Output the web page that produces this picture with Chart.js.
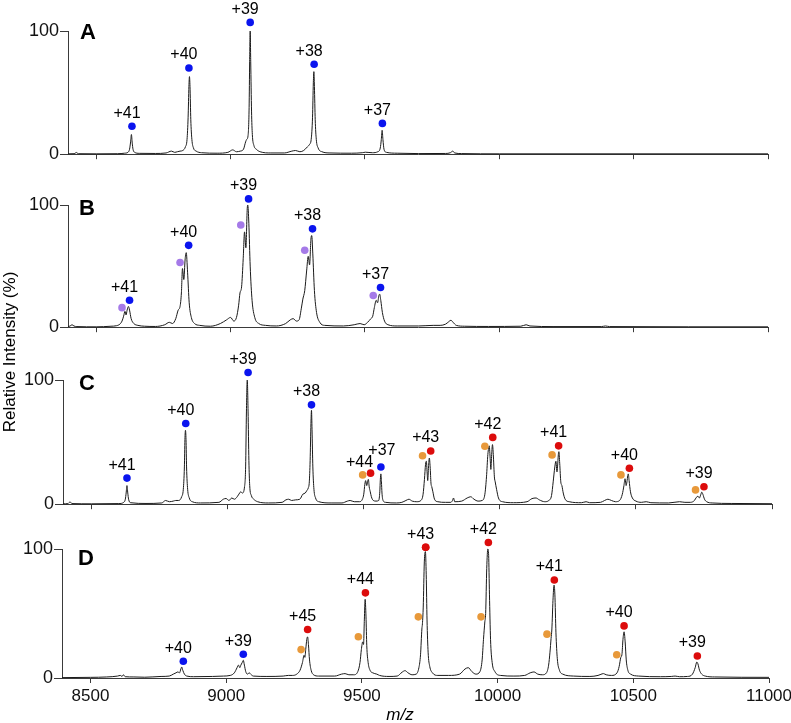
<!DOCTYPE html>
<html>
<head>
<meta charset="utf-8">
<script src="https://cdn.jsdelivr.net/npm/chart.js@4.4.1/dist/chart.umd.min.js"></script>
<style>
  html, body { margin: 0; padding: 0; background: #fff; }
  body { width: 791px; height: 723px; position: relative; overflow: hidden;
         font-family: "Liberation Sans", Arial, sans-serif; color: #000; }
  canvas { position: absolute; left: 0; }
  .letter { position: absolute; font-weight: bold; font-size: 22px; line-height: 22px; }
  .ytitle { position: absolute; left: -90px; top: 342px; width: 200px; height: 20px;
            line-height: 20px; font-size: 17px; text-align: center; white-space: nowrap;
            transform: rotate(-90deg); }
  .xtitle { position: absolute; left: 370px; top: 706px; width: 60px; text-align: center;
            font-size: 17px; line-height: 17px; font-style: italic; }
</style>
</head>
<body>
<canvas id="chartA"></canvas>
<canvas id="chartB"></canvas>
<canvas id="chartC"></canvas>
<canvas id="chartD"></canvas>
<div class="letter" style="left:80px;top:21px;">A</div>
<div class="letter" style="left:79px;top:197px;">B</div>
<div class="letter" style="left:79px;top:372px;">C</div>
<div class="letter" style="left:78px;top:547px;">D</div>
<div class="ytitle">Relative Intensity (%)</div>
<div class="xtitle">m/z</div>

<script>
/* ---- Axis ticks ---- */
const xTicks = [8500, 9000, 9500, 10000, 10500, 11000];
const yTicks = [0, 100];

/* ---- Spectra: [m/z, relative intensity] ---- */
const traceA = [[8395,0.3],[8418,0.4],[8426,1.4],[8433,0.4],[8500,0.3],[8580,0.4],[8605,0.8],[8618,1.5],[8624,4],[8628,10],[8631,16],[8634,9],[8637,4],[8643,1.5],[8660,0.7],[8720,0.6],[8760,1],[8780,2.5],[8792,1.5],[8802,2],[8812,2.5],[8822,3],[8832,6],[8838,12],[8842,30],[8845,55],[8847,63],[8849,55],[8852,28],[8856,12],[8862,5],[8872,2.5],[8892,1.2],[8950,0.8],[8990,1.5],[9008,3.5],[9022,2],[9036,2.5],[9048,4],[9056,10],[9060,12],[9065,15],[9069,38],[9071,75],[9073,100],[9075,75],[9078,35],[9081,16],[9087,7],[9096,4],[9110,2],[9150,1],[9200,1],[9228,2.5],[9242,3],[9258,2],[9272,3],[9286,6],[9294,8],[9300,12],[9305,30],[9308,58],[9310,67],[9312,55],[9315,28],[9319,12],[9326,5],[9340,2],[9370,1],[9450,0.8],[9490,1.2],[9502,1.6],[9528,1.2],[9548,2],[9557,5],[9561,12],[9564,19.4],[9567,12],[9571,4],[9580,1.5],[9620,0.8],[9700,0.5],[9800,0.6],[9818,1.2],[9827,2.5],[9834,1],[9860,0.5],[10000,0.3],[11000,0.3]];

const traceB = [[8395,0.5],[8403,1],[8410,2],[8417,1],[8428,0.5],[8500,0.3],[8555,0.8],[8575,1.2],[8588,2.5],[8596,5],[8602,9],[8607,13],[8611,10],[8615,14],[8620,17],[8624,14],[8630,7],[8640,3],[8655,1.5],[8680,0.8],[8720,0.6],[8755,2],[8772,4],[8784,3],[8796,7],[8805,14],[8812,17],[8817,28],[8821,48],[8826,39],[8831,56],[8835,61],[8840,45],[8846,20],[8854,8],[8866,3],[8885,1.5],[8925,0.8],[8962,3],[8985,6],[9000,8],[9012,5],[9022,8],[9030,18],[9035,28],[9041,33],[9047,56],[9052,78],[9057,65],[9062,97],[9064,100],[9068,85],[9073,50],[9080,22],[9090,8],[9105,3],[9130,1.5],[9170,1],[9205,3],[9222,6],[9233,7],[9245,5],[9255,6],[9263,15],[9269,23],[9276,30],[9283,46],[9289,58],[9294,51],[9299,72],[9302,75],[9306,60],[9312,30],[9320,12],[9332,4],[9350,1.5],[9420,1],[9460,2],[9482,3],[9497,2],[9510,4],[9522,7],[9529,9],[9535,16],[9542,22],[9547,20],[9552,26],[9555,27],[9559,22],[9565,12],[9573,5],[9586,2],[9620,1],[9700,1],[9754,1.5],[9780,1.5],[9800,2.5],[9812,4.5],[9820,5.7],[9828,4],[9840,1.5],[9870,0.8],[9960,0.6],[10080,0.8],[10100,2],[10114,1],[10200,0.5],[10380,0.5],[10395,1],[10410,0.5],[11000,0.3]];

const traceC = [[8395,0.3],[8413,0.5],[8421,1.8],[8428,0.5],[8500,0.3],[8600,0.5],[8618,1.5],[8624,4],[8627,9],[8630,15],[8633,9],[8636,4],[8643,1.2],[8700,0.6],[8758,1],[8772,3],[8786,2],[8800,2.5],[8809,3],[8820,3],[8831,6],[8837,12],[8841,30],[8843,52],[8845,59.5],[8847,52],[8849,30],[8853,12],[8859,5],[8870,2],[8900,1],[8968,1.5],[8984,4],[8994,4.6],[9005,3],[9015,5],[9025,4],[9035,6],[9044,9],[9048,10],[9054,9],[9062,14],[9066,30],[9069,75],[9072,100],[9075,75],[9078,35],[9081,15],[9087,7],[9096,4],[9110,2],[9150,1],[9200,1.5],[9214,3.5],[9224,4],[9235,3],[9250,3.5],[9265,4],[9276,8],[9285,9],[9291,11],[9296,13],[9300,18],[9303,35],[9306,65],[9308,75.6],[9310,60],[9313,30],[9317,12],[9323,5],[9335,2],[9380,1],[9420,1],[9440,2.5],[9450,3],[9465,2],[9485,2],[9495,4],[9500,8],[9504,16],[9507,19],[9511,15],[9514,18],[9517,20],[9520,14],[9524,10],[9528,6],[9535,3],[9545,2.5],[9555,3],[9559,10],[9561,20],[9563,24.4],[9565,18],[9567,9],[9571,3],[9580,1.5],[9620,1],[9640,1.5],[9655,3],[9666,4],[9678,2.5],[9695,2],[9710,3],[9718,8],[9723,20],[9727,32],[9730,34.6],[9733,25],[9735,19],[9738,30],[9741,37.2],[9744,30],[9747,17],[9750,14],[9754,10],[9760,4],[9772,2],[9800,1.5],[9820,1.5],[9826,3],[9830,5],[9834,2],[9860,2.5],[9880,5],[9893,6],[9905,4],[9920,2.5],[9935,3],[9945,8],[9951,22],[9956,40],[9961,47],[9965,35],[9967,28],[9970,40],[9973,48],[9976,40],[9980,22],[9983,18],[9988,12],[9995,5],[10010,2],[10050,1.2],[10100,2],[10118,4.5],[10133,5],[10145,3.5],[10165,2],[10180,3],[10190,7],[10196,18],[10202,30],[10206,34.6],[10210,26],[10212,30],[10215,40],[10217,42.3],[10220,33],[10224,18],[10228,15],[10233,9],[10240,4],[10255,2],[10300,1.2],[10317,2],[10330,1.2],[10370,1.5],[10385,3],[10397,4],[10410,3],[10425,2],[10440,3],[10450,8],[10456,15],[10460,20.5],[10464,15],[10467,18],[10470,23],[10472,24.4],[10475,19],[10480,10],[10487,5],[10500,2.5],[10520,1.5],[10538,2],[10555,1.2],[10620,1],[10660,2],[10680,1.5],[10700,1.5],[10715,3],[10722,5.5],[10728,6.4],[10733,5],[10738,7.5],[10742,9.7],[10746,8],[10752,4],[10760,2],[10780,1],[10850,0.6],[11000,0.4]];

const traceD = [[8395,0.3],[8500,0.5],[8560,0.8],[8600,1.5],[8610,2],[8616,1.2],[8621,2.5],[8628,1],[8660,0.8],[8700,0.6],[8760,1.2],[8790,1.5],[8805,3],[8815,4],[8822,4.7],[8828,4],[8833,7],[8836,8.5],[8840,6],[8846,3],[8855,1.5],[8880,1],[8950,1.2],[8990,1.5],[9015,2],[9030,4],[9040,8],[9045,10],[9050,8],[9054,10],[9059,12],[9063,13.7],[9067,10],[9072,5],[9078,3],[9085,4],[9090,3],[9100,1.5],[9150,1.2],[9210,1.5],[9229,2],[9245,2],[9260,3],[9272,6],[9281,12],[9287,17.6],[9290,16],[9293,22],[9297,30],[9300,31.9],[9303,26],[9307,14],[9313,6],[9322,2.5],[9340,1.5],[9400,1.5],[9425,3],[9438,3.4],[9452,2.5],[9470,2.5],[9485,5],[9493,12],[9498,22],[9503,28],[9506,26],[9509,45],[9512,61],[9515,48],[9518,25],[9523,12],[9530,6],[9540,4],[9555,3],[9565,2],[9600,1.2],[9630,1.5],[9648,4.5],[9659,5.7],[9670,4],[9685,2.5],[9700,3],[9710,8],[9716,18],[9721,38],[9723,42],[9726,55],[9730,90],[9734,98],[9737,80],[9740,45],[9744,20],[9750,9],[9760,4],[9780,2],[9820,2],[9860,3],[9880,7],[9892,8],[9905,5],[9920,3],[9935,5],[9943,14],[9948,30],[9953,43.5],[9956,50],[9960,85],[9964,100],[9967,95],[9970,65],[9974,30],[9980,12],[9990,5],[10010,2],[10060,1.5],[10100,2],[10120,4],[10134,4.7],[10148,3],[10165,2.5],[10180,4],[10188,10],[10193,20],[10197,30.6],[10200,38],[10204,60],[10208,72],[10211,65],[10215,35],[10220,15],[10228,6],[10240,3],[10280,1.5],[10340,1.2],[10370,2],[10385,3.2],[10390,3.4],[10400,2.5],[10420,2],[10440,4],[10448,9],[10454,16],[10458,18],[10462,30],[10466,35.8],[10470,28],[10474,14],[10480,6],[10490,3],[10520,1.5],[10600,1],[10640,1.2],[10654,1.5],[10670,1],[10700,1.2],[10718,3],[10728,8],[10734,12.4],[10738,11],[10744,6],[10752,3],[10765,1.5],[10800,0.8],[11000,0.5]];

/* ---- Charge-state markers: [m/z, marker height] ---- */
const blueA   = [[8633,22.7],[8845,70],[9073,107],[9311,73],[9565,25]];
const blueB   = [[8624,22],[8844,67],[9067,105],[9305,80.5],[9558,32.5]];
const purpleB = [[8596,16],[8812,53],[9038,83.6],[9276,63],[9531,26]];
const blueC   = [[8630,21],[8846,65],[9075,106],[9308,80],[9563,30]];
const orangeC = [[9496,23.6],[9716,39],[9945,46.7],[10192,39.7],[10445,23.6],[10719,11.5]];
const redC    = [[9525,25],[9746,42.8],[9974,53.8],[10216,47],[10476,29],[10750,14]];
const blueD   = [[8842,13],[9063,18.4]];
const orangeD = [[9276,22],[9487,32],[9708,47.4],[9939,47.4],[10182,34],[10439,18]];
const redD    = [[9300,37.6],[9513,66],[9735,101.3],[9966,105],[10209,76],[10466,40.4],[10736,17]];

const chargesBlue  = ['+41','+40','+39','+38','+37'];
const chargesRedC  = ['+44','+43','+42','+41','+40','+39'];
const chargesBlueD = ['+40','+39'];
const chargesRedD  = ['+45','+44','+43','+42','+41','+40','+39'];

/* ---- Styles ---- */
const BLUE = '#0a14ee', PURPLE = '#a57ae8', ORANGE = '#e8993a', RED = '#dc0c0c';
const AXIS = '#3a3a3a';
const FONT = '"Liberation Sans", Arial, sans-serif';
Chart.defaults.font.family = FONT;
const CANVAS_W = 820;

/* label nudges, px, by charge index (default [-5,-13]) */
const nudgeBlueC = { 4: [1, -16] };
const nudgeRedC  = { 0: [-11, -11] };

/* markers above 100 sit outside the chart area; Chart.js skips those, so redraw them */
const chargeLabels = {
  id: 'chargeLabels',
  afterDatasetsDraw(chart) {
    const ctx = chart.ctx;
    const area = chart.chartArea;
    chart.data.datasets.forEach((ds, i) => {
      if (!ds.isMarker) return;
      chart.getDatasetMeta(i).data.forEach(pt => {
        if (pt.y < area.top) pt.draw(ctx);
      });
    });
    ctx.save();
    ctx.font = '16px ' + FONT;
    ctx.fillStyle = '#000';
    ctx.textAlign = 'center';
    ctx.textBaseline = 'middle';
    chart.data.datasets.forEach((ds, i) => {
      if (!ds.charges) return;
      chart.getDatasetMeta(i).data.forEach((pt, j) => {
        const n = (ds.nudge && ds.nudge[j]) || [-5, -13];
        ctx.fillText(ds.charges[j], pt.x + n[0], pt.y + n[1]);
      });
    });
    ctx.restore();
  }
};

function toXY(arr) { return arr.map(p => ({ x: p[0], y: p[1] })); }

function dotSet(pts, color, charges, nudge) {
  return {
    data: toXY(pts), showLine: false, pointRadius: 3.8, pointHoverRadius: 3.8,
    pointBackgroundColor: color, pointBorderWidth: 0, clip: false, order: 0,
    isMarker: true, charges, nudge
  };
}

function makePanel(id, trace, dots, box, showX) {
  const [L, R, T, B] = box;
  const axisH = showX ? 40 : 6;
  const canvas = document.getElementById(id);
  const H = (B - T) + 40 + axisH;
  canvas.width = CANVAS_W; canvas.height = H;
  canvas.style.width = CANVAS_W + 'px'; canvas.style.height = H + 'px';
  canvas.style.top = (T - 40) + 'px';

  return new Chart(canvas.getContext('2d'), {
    type: 'scatter',
    data: {
      datasets: [
        ...dots,
        {
          data: toXY(trace), showLine: true, pointRadius: 0, pointHitRadius: 0,
          borderColor: '#1a1a1a', borderWidth: 1, cubicInterpolationMode: 'monotone',
          clip: false, order: 1
        }
      ]
    },
    options: {
      responsive: false, animation: false, devicePixelRatio: 1,
      layout: { padding: { left: L - 50, right: CANVAS_W - R, top: 40, bottom: 0 } },
      plugins: { legend: { display: false }, tooltip: { enabled: false } },
      events: [],
      scales: {
        x: {
          type: 'linear', min: 8395, max: 11000,
          afterBuildTicks: s => { s.ticks = xTicks.map(v => ({ value: v })); },
          afterFit: s => { s.height = axisH; },
          border: { display: true, color: AXIS, width: 1 },
          grid: { drawOnChartArea: false, drawTicks: true, tickLength: 5, color: AXIS },
          ticks: { display: showX, color: '#111', font: { size: 17 }, padding: 3, maxRotation: 0,
                   callback: v => String(v) }
        },
        y: {
          type: 'linear', min: 0, max: 100,
          afterBuildTicks: s => { s.ticks = yTicks.map(v => ({ value: v })); },
          afterFit: s => { s.width = 50; },
          border: { display: true, color: AXIS, width: 1 },
          grid: { drawOnChartArea: false, drawTicks: true, tickLength: 8, color: AXIS },
          ticks: { color: '#111', font: { size: 18 }, padding: 1, callback: v => String(v) }
        }
      }
    },
    plugins: [chargeLabels]
  });
}

makePanel('chartA', traceA, [dotSet(blueA, BLUE, chargesBlue)], [68, 768, 31, 160], false);
makePanel('chartB', traceB, [dotSet(blueB, BLUE, chargesBlue), dotSet(purpleB, PURPLE)], [68, 768, 205, 333], false);
makePanel('chartC', traceC, [
  dotSet(blueC, BLUE, chargesBlue, nudgeBlueC),
  dotSet(redC, RED, chargesRedC, nudgeRedC),
  dotSet(orangeC, ORANGE)
], [63, 772, 380, 510], false);
makePanel('chartD', traceD, [
  dotSet(blueD, BLUE, chargesBlueD),
  dotSet(redD, RED, chargesRedD),
  dotSet(orangeD, ORANGE)
], [62, 769, 549, 678], true);
</script>
</body>
</html>
